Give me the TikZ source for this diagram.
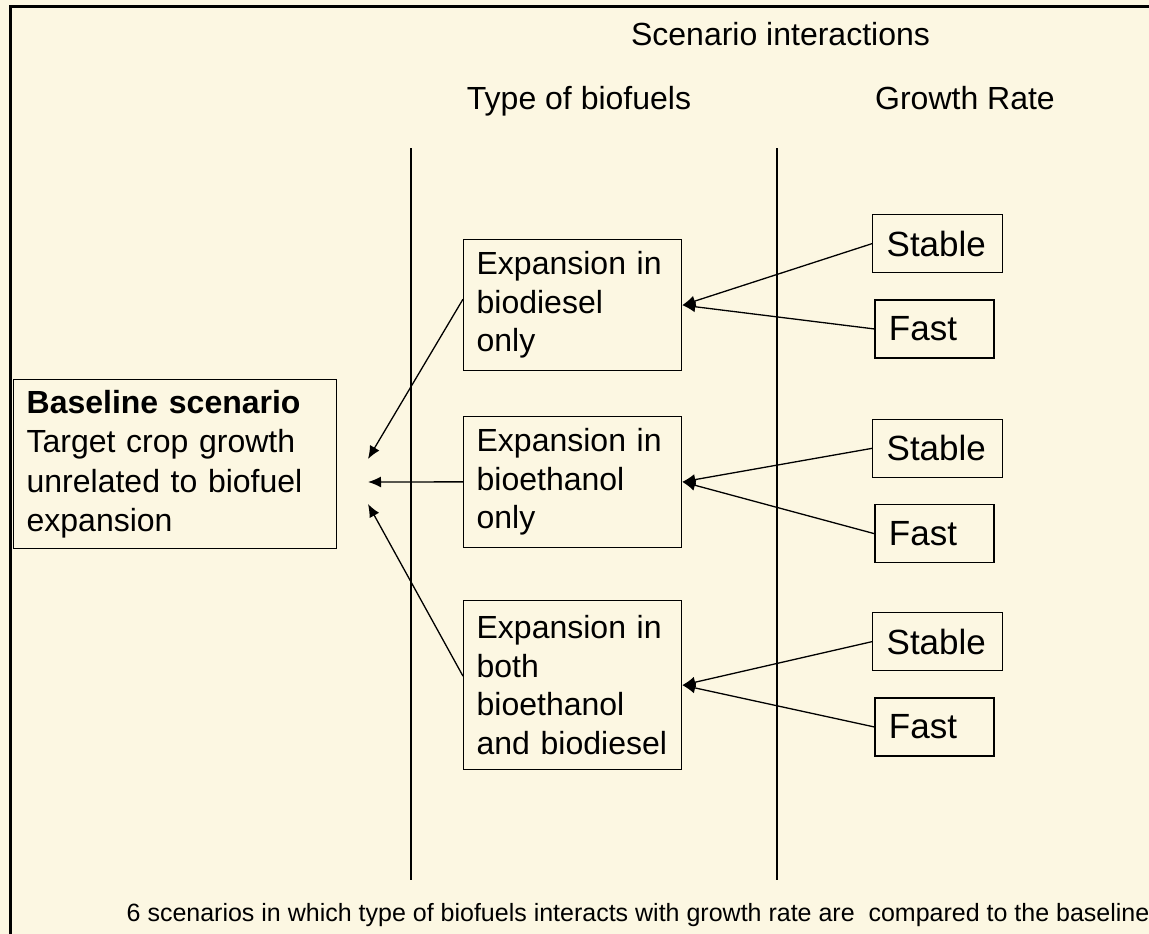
\documentclass[tikz,border=0pt]{standalone}
\usepackage{fontspec}
\setmainfont{Liberation Sans}
\usetikzlibrary{arrows.meta}
\definecolor{paper}{RGB}{252,247,226}

\begin{document}
\begin{tikzpicture}[x=1pt,y=-1pt,line width=1.3pt,
	box/.style={draw,anchor=north west,align=left,inner xsep=13pt,inner ysep=0pt,text width=192pt,font=\fontsize{32}{38.5}\selectfont},
	rate/.style={draw,anchor=north west,align=left,inner xsep=14pt,inner ysep=0pt,minimum height=58pt,font=\fontsize{35}{40}\selectfont},
	head/.style={anchor=base,font=\fontsize{32}{38.5}\selectfont},
	arr/.style={-{Latex[length=13pt,width=11pt]}}]
	\useasboundingbox (0,0) rectangle (1149,934);
	\fill[paper] (0,0) rectangle (1149,934);
	\draw[line width=2.7pt] (10.5,934)--(10.5,6.5)--(1149,6.5);

	\node[head] (title) at (780.5,46) {Scenario interactions};
	\node[head] (type) at (579,110) {Type of biofuels};
	\node[head] (growth) at (965,110) {Growth Rate};
	\draw (411,148)--(411,880);
	\draw (777,148)--(777,880);

	\node[box,text width=297pt,minimum height=169pt,font=\fontsize{32}{39.5}\selectfont] (base) at (13,379) {\textbf{Baseline scenario}\\Target crop growth\\unrelated to biofuel\\expansion};
	\node[box,minimum height=131pt] (diesel) at (463,239) {Expansion in\\biodiesel\\only};
	\node[box,minimum height=131pt] (ethanol) at (463,415.7) {Expansion in\\bioethanol\\only};
	\node[box,minimum height=169pt] (both) at (463,600) {Expansion in\\both\\bioethanol\\and biodiesel};

	\node[rate,text width=102pt] (stable1) at (872,214) {Stable};
	\node[rate,text width=91pt] (fast1) at (874.3,299.3) {Fast};
	\node[rate,text width=102pt] (stable2) at (872,418.7) {Stable};
	\node[rate,text width=91pt] (fast2) at (874.3,504) {Fast};
	\node[rate,text width=102pt] (stable3) at (872,612) {Stable};
	\node[rate,text width=91pt] (fast3) at (874.3,697.3) {Fast};

	\coordinate (t1) at (368,459);
	\coordinate (t2) at (368,482);
	\coordinate (t3) at (368,504);
	\draw[arr] ([yshift=6pt]diesel.west)--(t1);
	\draw[arr] (ethanol.west)--(t2);
	\draw[arr] ([yshift=9pt]both.west)--(t3);

	\draw[arr] (stable1.west)--(diesel.east);
	\draw[arr] (fast1.west)--(diesel.east);
	\draw[arr] (stable2.west)--(ethanol.east);
	\draw[arr] (fast2.west)--(ethanol.east);
	\draw[arr] (stable3.west)--(both.east);
	\draw[arr] (fast3.west)--(both.east);

	\node[anchor=base west,font=\fontsize{25}{30}\selectfont] (note) at (122.7,921.7) {6 scenarios in which type of biofuels interacts with growth rate are\ \ compared to the baseline};
\end{tikzpicture}
\end{document}
